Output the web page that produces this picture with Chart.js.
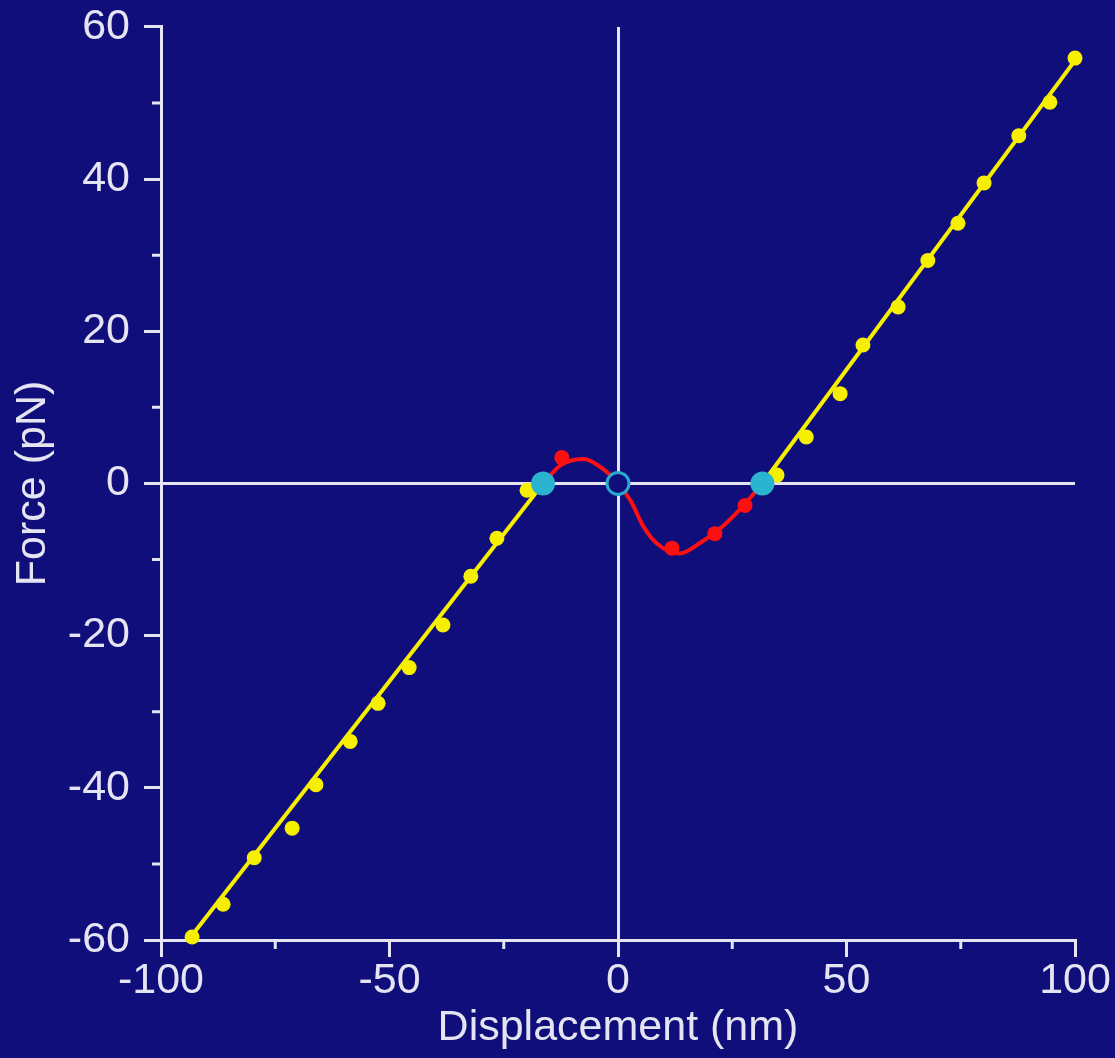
<!DOCTYPE html>
<html lang="en">
<head>
    <meta charset="UTF-8">
    <title>Force vs Displacement</title>
    <script src="https://cdn.jsdelivr.net/npm/chart.js"></script>
    <style>
        body { margin: 0; background: #100e7a; }
        canvas { display: block; }
    </style>
</head>
<body>
    <canvas id="forceChart" width="1115" height="1058"></canvas>
    <script>
// measured points (nm, pN)
const yellowX = [-93.2, -86.4, -79.6, -71.3, -66.1, -58.6, -52.5, -45.7, -38.3, -32.2, -26.5, -19.9,
                 34.8, 41.2, 48.6, 53.6, 61.3, 67.8, 74.4, 80.1, 87.7, 94.5, 100];
const yellowY = [-59.6, -55.3, -49.2, -45.3, -39.6, -33.9, -28.9, -24.2, -18.6, -12.2, -7.2, -0.9,
                 1.1, 6.1, 11.8, 18.2, 23.2, 29.3, 34.2, 39.5, 45.7, 50.1, 55.9];
const redX = [-12.3, 11.8, 21.2, 27.8];
const redY = [3.4, -8.5, -6.6, -2.9];

// linear fits on both sides
const fitLeftX = [-94, -16.4];
const fitLeftY = [-60, 0];
const fitRightX = [31.6, 100];
const fitRightY = [0, 55.6];

// unstable region curve
const curveX = [-16.4, -12.5, -7.5, -3.5, 0, 2.8, 5.5, 8.5, 13.5, 18, 22, 27, 31.6];
const curveY = [0, 2.4, 3.2, 2.0, 0, -2.3, -5.6, -7.9, -9.2, -7.8, -6.1, -3.2, 0];

// equilibrium points
const stableX = [-16.4, 31.6];
const stableY = [0, 0];
const unstableX = [0];
const unstableY = [0];

const xTicks = [-100, -50, 0, 50, 100];
const yTicks = [-60, -40, -20, 0, 20, 40, 60];

const BG = '#100e7a';
const FG = '#e4e4f2';
const FONT = '"Liberation Sans", Arial, Helvetica, sans-serif';

const pts = (xs, ys) => xs.map((x, i) => ({ x: x, y: ys[i] }));

// short ticks between the labelled ones
const minorTicks = {
    id: 'minorTicks',
    afterDraw(chart) {
        const ctx = chart.ctx;
        const xs = chart.scales.x, ys = chart.scales.y;
        ctx.save();
        ctx.strokeStyle = FG;
        ctx.lineWidth = 3;
        ctx.beginPath();
        for (let v = -75; v <= 75; v += 50) {
            const px = xs.getPixelForValue(v);
            ctx.moveTo(px, ys.bottom);
            ctx.lineTo(px, ys.bottom + 9);
        }
        for (let v = -50; v <= 50; v += 20) {
            const py = ys.getPixelForValue(v);
            ctx.moveTo(xs.left, py);
            ctx.lineTo(xs.left - 9, py);
        }
        ctx.stroke();
        ctx.restore();
    }
};

const zeroOnly = c => (c.tick && c.tick.value === 0) ? FG : 'rgba(0,0,0,0)';

new Chart(document.getElementById('forceChart').getContext('2d'), {
    type: 'scatter',
    data: {
        datasets: [
            {
                data: pts(unstableX, unstableY),
                pointRadius: 11, pointBorderWidth: 3,
                pointBackgroundColor: BG, pointBorderColor: '#2aa9cf',
                order: 0, clip: false
            },
            {
                data: pts(stableX, stableY),
                pointRadius: 12, pointBorderWidth: 0,
                pointBackgroundColor: '#2ab4cf',
                order: 1, clip: false
            },
            {
                data: pts(yellowX, yellowY),
                pointRadius: 7.5, pointBorderWidth: 0,
                pointBackgroundColor: '#f6f000',
                order: 2, clip: false
            },
            {
                data: pts(redX, redY),
                pointRadius: 7.5, pointBorderWidth: 0,
                pointBackgroundColor: '#ff1010',
                order: 3, clip: false
            },
            {
                data: pts(fitLeftX, fitLeftY),
                showLine: true, borderColor: '#f6f000', borderWidth: 4,
                pointRadius: 0, order: 4
            },
            {
                data: pts(fitRightX, fitRightY),
                showLine: true, borderColor: '#f6f000', borderWidth: 4,
                pointRadius: 0, order: 4
            },
            {
                data: pts(curveX, curveY),
                showLine: true, borderColor: '#ff1010', borderWidth: 4,
                cubicInterpolationMode: 'monotone',
                pointRadius: 0, order: 5
            }
        ]
    },
    options: {
        responsive: false,
        animation: false,
        layout: { padding: { top: 20, right: 40, left: 0, bottom: 0 } },
        plugins: { legend: { display: false }, tooltip: { enabled: false } },
        scales: {
            x: {
                type: 'linear',
                min: -100, max: 100,
                afterBuildTicks: s => { s.ticks = xTicks.map(v => ({ value: v })); },
                afterFit: s => { s.height = 118; },
                border: { color: FG, width: 3 },
                grid: {
                    color: zeroOnly, lineWidth: 3,
                    tickColor: FG, tickWidth: 3, tickLength: 17
                },
                ticks: {
                    color: FG, padding: 3,
                    font: { family: FONT, size: 43, lineHeight: 1.0 }
                },
                title: {
                    display: true, text: 'Displacement (nm)', color: FG,
                    font: { family: FONT, size: 43, lineHeight: 1.0 },
                    padding: { top: 4, bottom: 8 }
                }
            },
            y: {
                type: 'linear',
                min: -60, max: 60,
                afterBuildTicks: s => { s.ticks = yTicks.map(v => ({ value: v })); },
                afterFit: s => { s.width = 161; },
                border: { color: FG, width: 3 },
                grid: {
                    color: zeroOnly, lineWidth: 3,
                    tickColor: FG, tickWidth: 3, tickLength: 17
                },
                ticks: {
                    color: FG, padding: 14,
                    font: { family: FONT, size: 43, lineHeight: 0.6 }
                },
                title: {
                    display: true, text: 'Force (pN)', color: FG,
                    font: { family: FONT, size: 43, lineHeight: 1.0 },
                    padding: { top: 12, bottom: 12 }
                }
            }
        }
    },
    plugins: [minorTicks]
});
    </script>
</body>
</html>
